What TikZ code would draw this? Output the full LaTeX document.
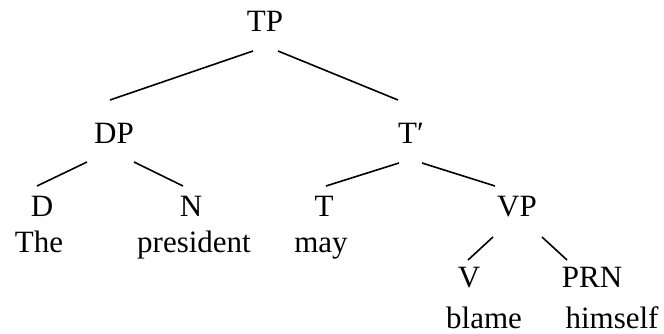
\documentclass[tikz,border=0pt]{standalone}
\usepackage{fontspec}
\setmainfont{Liberation Serif}
\begin{document}
\begin{tikzpicture}[x=1pt,y=-1pt,
  lbl/.style={inner sep=0pt,anchor=base,font=\fontsize{31}{37}\selectfont},
  branch/.style={line width=1.6pt}]
\useasboundingbox (0,0) rectangle (664,334);
% category labels and words
\node[lbl] (TP) at (265,32) {TP};
\node[lbl] (DP) at (114,143) {DP};
\node[lbl] (Tbar) at (411,143) {T′};
\node[lbl] (D) at (42,216) {D};
\node[lbl] (N) at (191,216) {N};
\node[lbl] (T) at (324,216) {T};
\node[lbl] (VP) at (517,216) {VP};
\node[lbl] (the) at (39,252) {The};
\node[lbl] (president) at (194,252) {president};
\node[lbl] (may) at (321,252) {may};
\node[lbl] (V) at (469,287) {V};
\node[lbl] (PRN) at (592,287) {PRN};
\node[lbl] (blame) at (484,328) {blame};
\node[lbl] (himself) at (612,328) {himself};
% branches
\draw[branch] ([shift={(-12,19)}]TP.base) -- ([shift={(-4,-43)}]DP.base);
\draw[branch] ([shift={(13,19)}]TP.base) -- ([shift={(-13,-43)}]Tbar.base);
\draw[branch] ([shift={(-27,19)}]DP.base) -- ([shift={(-5,-30)}]D.base);
\draw[branch] ([shift={(20,19)}]DP.base) -- ([shift={(-8,-30)}]N.base);
\draw[branch] ([shift={(-12,20)}]Tbar.base) -- ([shift={(2,-30)}]T.base);
\draw[branch] ([shift={(11,20)}]Tbar.base) -- ([shift={(-22,-30)}]VP.base);
\draw[branch] ([shift={(-24,21)}]VP.base) -- ([shift={(-1,-27)}]V.base);
\draw[branch] ([shift={(25,21)}]VP.base) -- ([shift={(-25,-27)}]PRN.base);
\end{tikzpicture}
\end{document}
